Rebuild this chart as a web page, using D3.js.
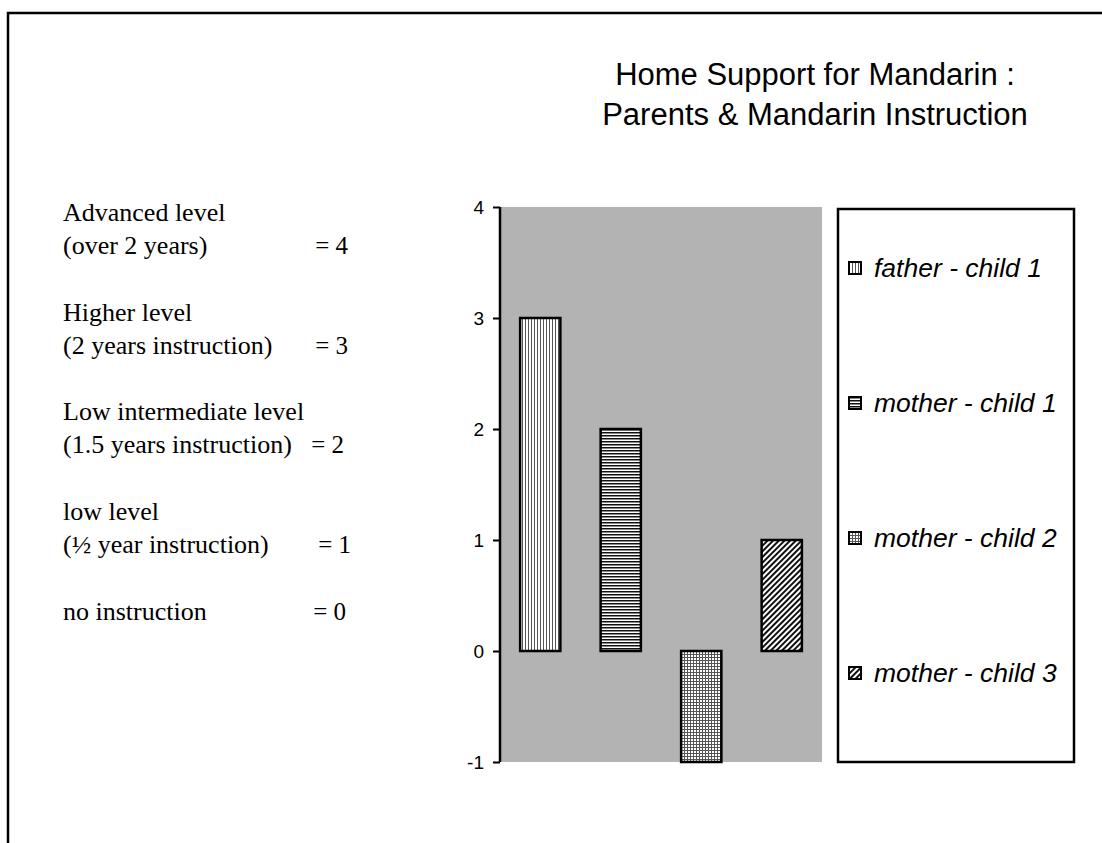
<!DOCTYPE html>
<html>
<head>
<meta charset="utf-8">
<script src="https://cdn.jsdelivr.net/npm/d3@7/dist/d3.min.js"></script>
<style>
  html, body { margin: 0; padding: 0; background: #fff; }
  svg { display: block; }
</style>
</head>
<body>
<div id="chart"></div>
<script>
// Mandarin instruction level per parent/child pair
const seriesNames = ["father - child 1", "mother - child 1", "mother - child 2", "mother - child 3"];
const seriesValues = [3, 2, -1, 1];
const patternIds = ["pVert", "pHoriz", "pGrid", "pDiag"];
const yTicks = [-1, 0, 1, 2, 3, 4];
const titleLines = ["Home Support for Mandarin :", "Parents & Mandarin Instruction"];

// Key for the level scale, shown beside the chart
const levelLines = [
  ["Advanced level", null],
  ["(over 2 years)", "= 4"],
  ["Higher level", null],
  ["(2 years instruction)", "= 3"],
  ["Low intermediate level", null],
  ["(1.5 years instruction)", "= 2"],
  ["low level", null],
  ["(\u00BD year instruction)", "= 1"],
  ["no instruction", "= 0"]
];

const W = 1102, H = 843;
const svg = d3.select("#chart").append("svg").attr("width", W).attr("height", H);

// fill patterns
const defs = svg.append("defs");
function pattern(id, w, h, build, transform) {
  const p = defs.append("pattern").attr("id", id).attr("patternUnits", "userSpaceOnUse")
    .attr("width", w).attr("height", h);
  if (transform) p.attr("patternTransform", transform);
  p.append("rect").attr("width", w).attr("height", h).attr("fill", "#fff");
  build(p);
}
pattern("pVert", 3, 3, p => p.append("rect").attr("x", 0).attr("width", 1).attr("height", 3).attr("fill", "#555"));
pattern("pHoriz", 3, 3, p => p.append("rect").attr("y", 0).attr("width", 3).attr("height", 1.5).attr("fill", "#111"));
pattern("pGrid", 3, 3, p => {
  p.append("rect").attr("x", 0).attr("width", 1).attr("height", 3).attr("fill", "#555");
  p.append("rect").attr("y", 0).attr("width", 3).attr("height", 1).attr("fill", "#555");
});
pattern("pDiag", 4, 4, p => p.append("rect").attr("x", 0).attr("width", 2).attr("height", 4).attr("fill", "#111"), "rotate(45)");

// outer frame
svg.append("path").attr("d", "M8,843 V13 H1102").attr("fill", "none").attr("stroke", "#000").attr("stroke-width", 2.5);

// title
svg.append("text").attr("font-family", "Liberation Sans, Arial, sans-serif").attr("font-size", 31)
  .attr("text-anchor", "middle").attr("fill", "#000")
  .selectAll("tspan").data(titleLines).join("tspan")
  .attr("x", 815).attr("y", (d, i) => 85 + i * 40).text(d => d);

// level key
const keyG = svg.append("g").attr("font-family", "Liberation Serif, 'Times New Roman', serif")
  .attr("font-size", 26).attr("fill", "#000");
const keyY = [221, 254, 321, 354, 420, 453, 520, 553, 620];
const eqEnd = [null, 348, null, 348, null, 344, null, 351, 346];
levelLines.forEach((l, i) => {
  keyG.append("text").attr("x", 63).attr("y", keyY[i]).text(l[0]);
  if (l[1]) keyG.append("text").attr("x", eqEnd[i]).attr("y", keyY[i])
    .attr("text-anchor", "end").attr("font-size", 25).text(l[1]);
});

// plot area
const plot = { left: 500, right: 822, top: 207, bottom: 762 };
const y = d3.scaleLinear().domain([-1, 4]).range([plot.bottom, plot.top]);
const x = d3.scaleBand().domain(seriesNames).range([plot.left, plot.right])
  .paddingInner(0.5).paddingOuter(0.25);

svg.append("rect").attr("x", plot.left).attr("y", plot.top)
  .attr("width", plot.right - plot.left).attr("height", plot.bottom - plot.top)
  .attr("fill", "#b3b3b3");

svg.append("g").selectAll("rect").data(seriesValues).join("rect")
  .attr("x", (d, i) => x(seriesNames[i]))
  .attr("width", x.bandwidth())
  .attr("y", d => y(Math.max(0, d)))
  .attr("height", d => Math.abs(y(d) - y(0)))
  .attr("fill", (d, i) => `url(#${patternIds[i]})`)
  .attr("stroke", "#000").attr("stroke-width", 2.5);

// y axis
const axis = svg.append("g").attr("transform", `translate(${plot.left},0)`)
  .call(d3.axisLeft(y).tickValues(yTicks).tickFormat(d => String(d)).tickSize(7).tickPadding(9));
axis.attr("font-size", null).attr("font-family", null);
axis.select(".domain").attr("stroke", "#000").attr("stroke-width", 2.5).attr("d", `M0,${plot.top}V${plot.bottom}`);
axis.selectAll(".tick line").attr("stroke", "#000").attr("stroke-width", 2);
axis.selectAll(".tick text").attr("font-family", "Liberation Sans, Arial, sans-serif")
  .attr("font-size", 19).attr("fill", "#000");

// legend
const leg = { x: 838, y: 209, w: 236, h: 553 };
svg.append("rect").attr("x", leg.x).attr("y", leg.y).attr("width", leg.w).attr("height", leg.h)
  .attr("fill", "#fff").attr("stroke", "#000").attr("stroke-width", 2.5);
const legY = [268, 403, 538, 673];
const items = svg.append("g").selectAll("g").data(seriesNames).join("g")
  .attr("transform", (d, i) => `translate(0,${legY[i]})`);
items.append("rect").attr("x", 849).attr("y", -6).attr("width", 12).attr("height", 12)
  .attr("fill", (d, i) => `url(#${patternIds[i]})`).attr("stroke", "#000").attr("stroke-width", 2);
items.append("text").attr("x", 874).attr("y", 9)
  .attr("font-family", "Liberation Sans, Arial, sans-serif").attr("font-style", "italic")
  .attr("font-size", 26.5).attr("fill", "#000").text(d => d);
</script>
</body>
</html>
